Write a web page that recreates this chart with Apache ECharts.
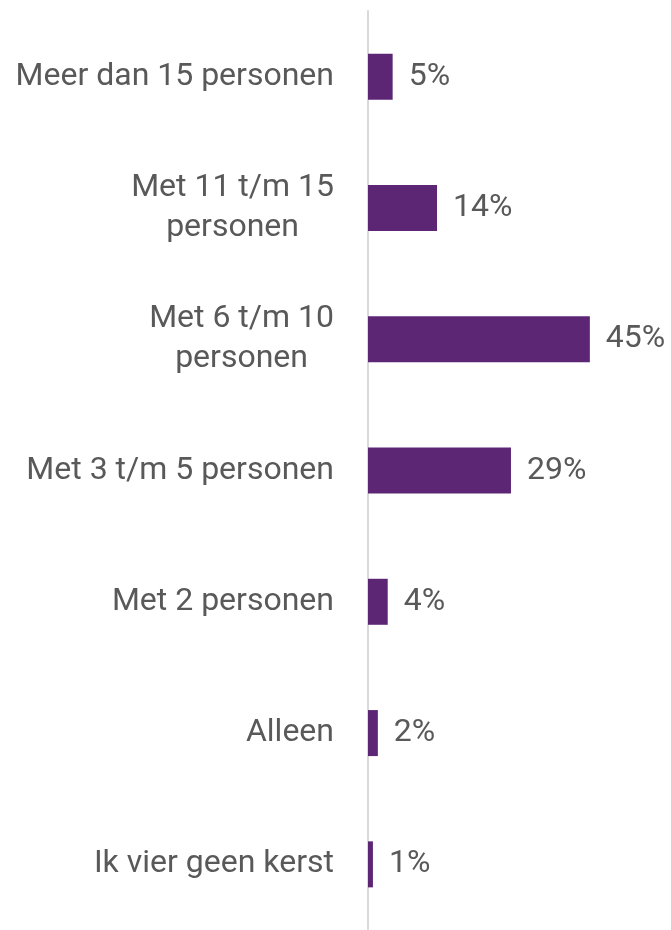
<!DOCTYPE html>
<html>
<head>
<meta charset="utf-8">
<style>html,body{margin:0;padding:0;background:#fff;}#c{width:671px;height:930px;}</style>
<script src="https://cdn.jsdelivr.net/npm/echarts@6/dist/echarts.min.js"></script>
</head>
<body>
<div id="c"></div>
<script>
const categories = ["Meer dan 15 personen", "Met 11 t/m 15\npersonen", "Met 6 t/m 10\npersonen", "Met 3 t/m 5 personen", "Met 2 personen", "Alleen", "Ik vier geen kerst"];
const values = [5, 14, 45, 29, 4, 2, 1];

const chart = echarts.init(document.getElementById('c'), null, {renderer: 'canvas'});
const labelStyle = {color: '#595959', fontFamily: 'Roboto', fontSize: 32, lineHeight: 40};
chart.setOption({
  animation: false,
  grid: {left: 368, top: 11, height: 925, width: 246.5, containLabel: false},
  xAxis: {type: 'value', min: 0, max: 50, show: false},
  yAxis: {
    type: 'category', inverse: true, data: categories,
    axisLine: {show: true, lineStyle: {color: '#d9d9d9', width: 2}},
    axisTick: {show: false},
    axisLabel: Object.assign({}, labelStyle, {
      margin: 34, align: 'right',
      formatter: v => v.split('\n').map(l => '{c|' + l + '}').join('\n'),
      rich: {c: Object.assign({}, labelStyle, {align: 'center'})}
    })
  },
  series: [{
    type: 'bar', data: values, barWidth: 46,
    itemStyle: {color: '#5c2674'},
    label: {show: true, position: 'right', distance: 16, formatter: '{c}%', color: '#595959', fontFamily: 'Roboto', fontSize: 32}
  }]
});
</script>
</body>
</html>
